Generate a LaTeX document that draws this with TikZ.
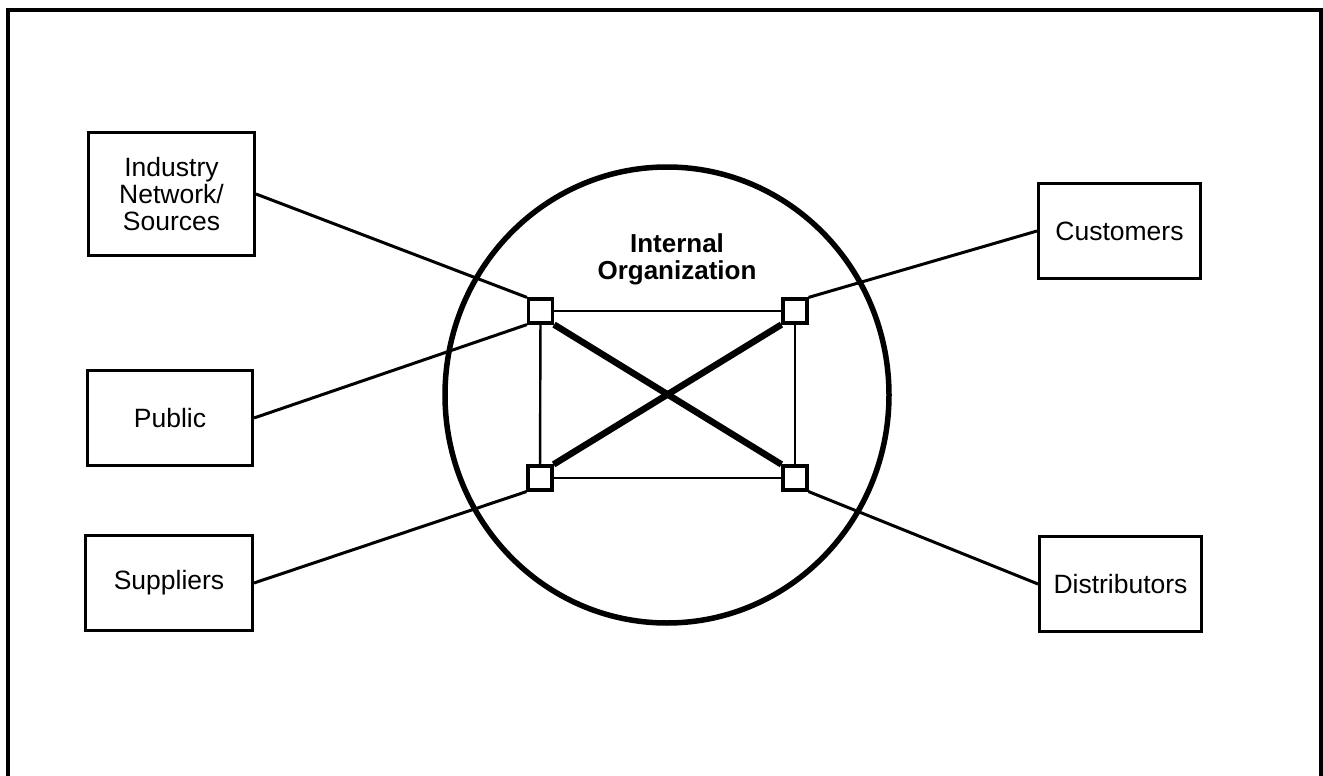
\documentclass[tikz,border=0pt]{standalone}
\usepackage{fontspec}
\setmainfont{Liberation Sans}
\usetikzlibrary{shapes.geometric}
\begin{document}
\begin{tikzpicture}[x=1pt,y=-1pt,
  party/.style={draw, line width=3pt, align=center, inner sep=0pt,
    font=\fontsize{26.5}{27}\selectfont},
  hub/.style={draw, fill=white, line width=3.2pt, minimum size=24pt, inner sep=0pt},
  org/.style={draw, ellipse, line width=5.5pt, inner sep=0pt},
  link/.style={line width=3pt},
  tie/.style={line width=2.4pt},
  cross/.style={line width=6.5pt},
  frame/.style={line width=3.5pt}]
\useasboundingbox (0,0) rectangle (1323,776);

% open frame around the figure
\draw[frame] (8,776) -- (8,10) -- (1321,10) -- (1321,776);

% the organization and its label
\node[org, minimum width=444pt, minimum height=456pt] (orgcircle) at (667,395) {};
\node[font=\fontsize{26}{27}\selectfont\bfseries, align=center, inner sep=0pt]
  (orglabel) at (677,259) {Internal\\Organization};

% outside parties
\node[party, minimum width=166pt, minimum height=123pt] (ind) at (171.5,194) {Industry\\Network/\\Sources};
\node[party, minimum width=165pt, minimum height=95pt] (pub) at (170,418) {Public};
\node[party, minimum width=167pt, minimum height=95pt] (sup) at (169,583) {Suppliers};
\node[party, minimum width=162pt, minimum height=95pt] (cus) at (1119.5,231) {Customers};
\node[party, minimum width=162pt, minimum height=95pt] (dis) at (1120.5,584) {Distributors};

% internal units
\node[hub] (tl) at (540.5,311) {};
\node[hub] (tr) at (795,311) {};
\node[hub] (bl) at (540,478) {};
\node[hub] (br) at (795,478) {};

% internal ties
\draw[tie] (tl) -- (tr);
\draw[tie] (bl) -- (br);
\draw[tie] (tl) -- (bl);
\draw[tie] (tr) -- (br);
\draw[cross] (tl.south east) -- (br.north west);
\draw[cross] (tr.south west) -- (bl.north east);

% ties to the outside
\draw[link] (ind.east) -- (tl.north west);
\draw[link] (pub.east) -- (tl.south west);
\draw[link] (sup.east) -- (bl.south west);
\draw[link] (cus.west) -- (tr.north east);
\draw[link] (dis.west) -- (br.south east);
\end{tikzpicture}
\end{document}
